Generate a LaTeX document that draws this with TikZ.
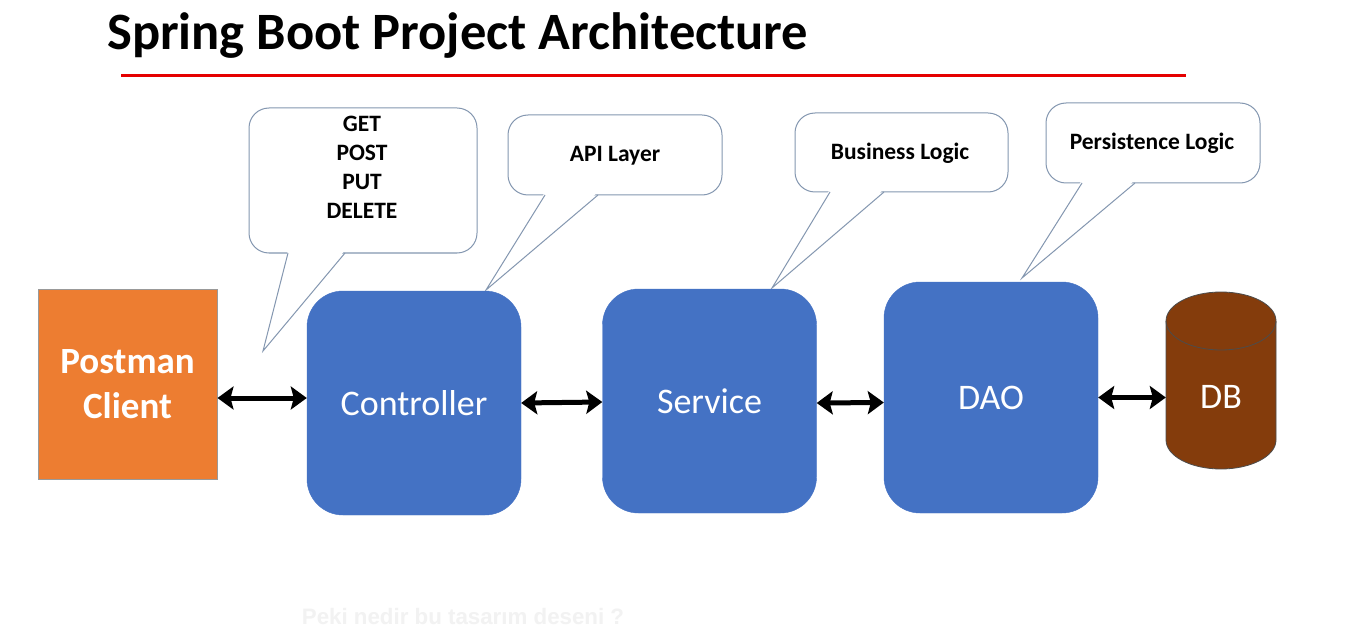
\documentclass[tikz,border=0pt]{standalone}
\usepackage{fontspec}
\setmainfont{Carlito}
\newfontfamily\faintfont{Liberation Sans}
\usetikzlibrary{arrows.meta}
\definecolor{boxblue}{HTML}{4472C4}
\definecolor{boxorange}{HTML}{ED7D31}
\definecolor{dbbrown}{HTML}{843C0C}
\definecolor{callline}{HTML}{8497B0}
\definecolor{faintgray}{HTML}{F2F2F2}
\begin{document}
\begin{tikzpicture}[x=1pt,y=-1pt,
  layerbox/.style={fill=boxblue, draw=boxblue, rounded corners=36pt, inner sep=0pt,
    text=white, font=\fontsize{36}{42}\selectfont, minimum width=214pt, minimum height=224pt},
  calloutbox/.style={draw=callline, fill=white, line width=1pt, rounded corners=20pt, inner sep=0pt},
  callouttext/.style={font=\bfseries\fontsize{23.5}{29}\selectfont, align=center, inner sep=0pt},
  wedgefill/.style={fill=white},
  wedgeline/.style={draw=callline, line width=1pt, line join=miter},
  biarrow/.style={line width=5pt, {Stealth[length=16pt,width=23pt,inset=3pt]}-{Stealth[length=16pt,width=23pt,inset=3pt]}}
]
\fill[white] (0,0) rectangle (1356,636);
\useasboundingbox (0,0) rectangle (1356,636);

% title
\node[anchor=base west, font=\bfseries\fontsize{52.5}{60}\selectfont, inner sep=0pt] (title) at (107,50) {Spring Boot Project Architecture};
\coordinate (rulel) at (121,76);
\coordinate (ruler) at (1186,76);
\draw[red!90!black, line width=3pt] (rulel) -- (ruler);

% callouts
\node[calloutbox, minimum width=228pt, minimum height=145pt] (cb1) at (363,180.5) {};
\fill[wedgefill] (288,250) -- (263,351) -- (345,250) -- cycle;
\draw[wedgeline] (288,253) -- (263,351) -- (345,253);
\node[callouttext] (ct1) at (362,167) {GET\\POST\\PUT\\DELETE};

\node[calloutbox, minimum width=214pt, minimum height=80pt] (cb2) at (615,155) {};
\fill[wedgefill] (545,192) -- (486,290) -- (598,192) -- cycle;
\draw[wedgeline] (545,195) -- (486,290) -- (598,195);
\node[callouttext] (ct2) at (615,156) {API Layer};

\node[calloutbox, minimum width=213pt, minimum height=79pt] (cb3) at (901.5,152.5) {};
\fill[wedgefill] (830,189) -- (772,288) -- (884,189) -- cycle;
\draw[wedgeline] (830,192) -- (772,288) -- (884,192);
\node[callouttext] (ct3) at (900,153) {Business Logic};

\node[calloutbox, minimum width=214pt, minimum height=80pt] (cb4) at (1153,143) {};
\fill[wedgefill] (1082,180) -- (1022,278) -- (1135,180) -- cycle;
\draw[wedgeline] (1082,183) -- (1022,278) -- (1135,183);
\node[callouttext] (ct4) at (1152,143) {Persistence Logic};

% postman
\node[fill=boxorange, draw=gray!80, line width=1pt, minimum width=179pt, minimum height=190pt,
  inner sep=0pt, text=white, align=center, font=\bfseries\fontsize{37}{45}\selectfont] (post) at (127.5,384) {Postman\\Client};

% layers
\node[layerbox] (ctrl) at (414,403) {Controller};
\node[layerbox] (serv) at (709.5,401) {Service};
\node[layerbox, minimum height=231pt] (dao) at (991,397.5) {DAO};

% DB cylinder
\node[minimum width=110pt, minimum height=178pt, inner sep=0pt] (db) at (1221,380) {};
\filldraw[fill=dbbrown, draw=gray!60!black, line width=0.8pt]
  (1166,321) -- (1166,440) arc (180:360:55pt and 29pt) -- (1276,321) arc (0:180:55pt and 29pt) -- cycle;
\draw[gray!60!black, line width=0.8pt] (1166,321) arc (180:360:55pt and 29pt);
\node[text=white, font=\fontsize{36}{42}\selectfont, inner sep=0pt] (dbtext) at (1221,397) {DB};

% arrows
\draw[biarrow] ([yshift=-14pt]post.east) -- ([yshift=5pt]ctrl.west);
\draw[biarrow] (ctrl.east) -- ([yshift=-1pt]serv.west);
\draw[biarrow] ([yshift=-2pt]serv.east) -- ([yshift=-5pt]dao.west);
\draw[biarrow] (dao.east) -- (dao.east -| db.west);

% faint caption
\node[font=\faintfont\bfseries\fontsize{22.3}{26}\selectfont, text=faintgray, inner sep=0pt] (note) at (463,617) {Peki nedir bu tasarım deseni ?};
\end{tikzpicture}
\end{document}
